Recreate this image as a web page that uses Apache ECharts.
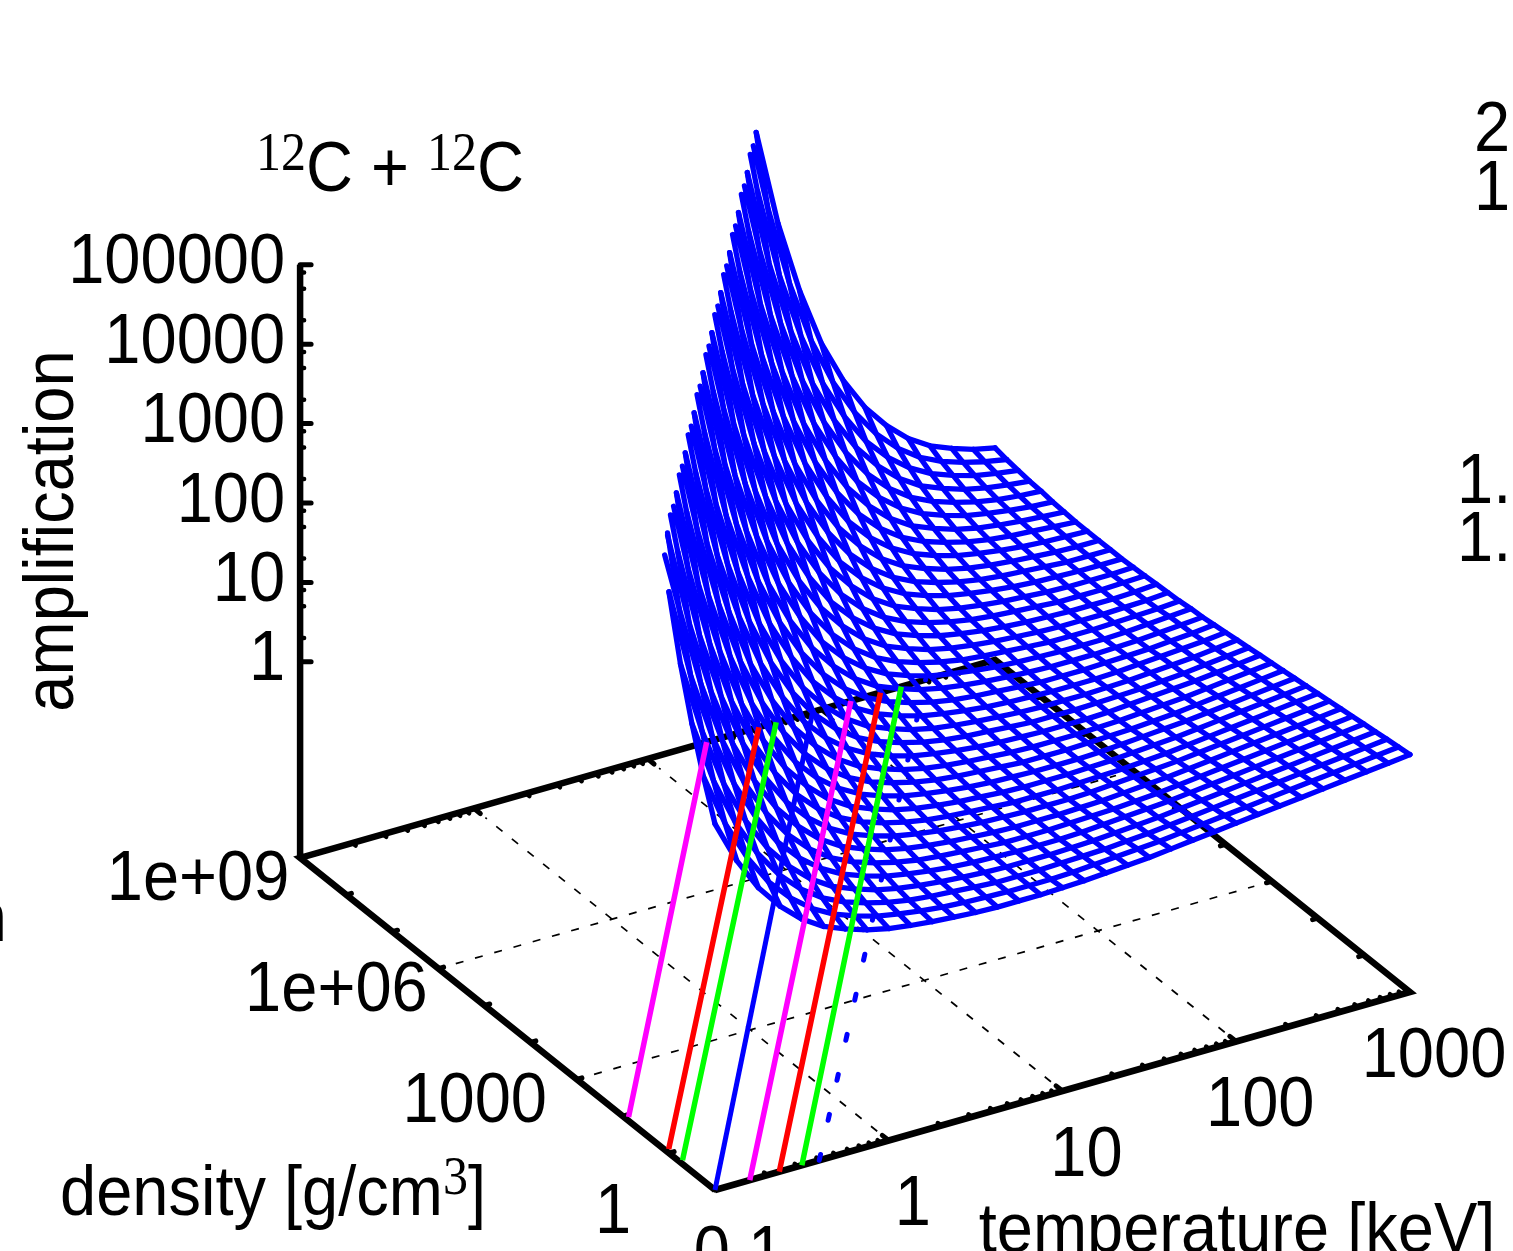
<!DOCTYPE html>
<html>
<head>
<meta charset="utf-8">
<style>html,body{margin:0;padding:0;background:#fff;overflow:hidden}#chart{width:1513px;height:1251px}</style>
<script src="https://cdn.jsdelivr.net/npm/echarts@6/dist/echarts.min.js"></script>
</head>
<body>
<div id="chart"></div>
<script>
// ---------- data (all log10) ----------
const logTemperatureColumns = [-1,-.875,-.75,-.625,-.5,-.375,-.25,-.125,0,.125,.25,.375,.5,.625,.75,.875,1,1.125,1.25,1.375,1.5,1.625,1.75,1.875,2,2.125,2.25,2.375,2.5,2.625,2.75,2.875,3];
const logDensityRows = [0,.25,.5,.75,1,1.25,1.5,1.75,2,2.25,2.5,2.75,3,3.25,3.5,3.75,4,4.25,4.5,4.75,5,5.25,5.5,5.75,6,6.25,6.5,6.75,7,7.25,7.5,7.75,8,8.25,8.5,8.75,9];
// log10(amplification) per density row; each row is right-aligned on the temperature columns
const logAmplification = [
[2.14,1.60,1.18,.87,.63,.46,.35,.26,.20,.16,.13,.11,.09,.08,.08,.08,.09,.10,.12,.14,.16,.19,.22,.25,.28,.31,.34,.37,.40,.43,.46,.49,.52],
[2.62,1.95,1.45,1.06,.78,.57,.42,.32,.24,.19,.15,.12,.10,.09,.08,.08,.08,.09,.11,.13,.15,.17,.20,.23,.26,.29,.32,.35,.38,.41,.44,.47,.50],
[3.17,2.37,1.77,1.31,.96,.70,.51,.38,.29,.22,.17,.14,.12,.10,.08,.08,.08,.09,.10,.11,.13,.15,.18,.21,.24,.27,.30,.33,.36,.39,.42,.45,.48],
[3.81,2.88,2.14,1.60,1.18,.87,.63,.46,.35,.26,.20,.16,.13,.11,.09,.08,.08,.08,.09,.10,.12,.14,.16,.19,.22,.25,.28,.31,.34,.37,.40,.43,.46],
[4.60,3.47,2.62,1.95,1.45,1.06,.78,.57,.42,.32,.24,.19,.15,.12,.10,.09,.08,.08,.08,.09,.11,.13,.15,.17,.20,.23,.26,.29,.32,.35,.38,.41,.44],
[4.20,3.17,2.37,1.77,1.31,.96,.70,.51,.38,.29,.22,.17,.14,.12,.10,.08,.08,.08,.09,.10,.11,.13,.15,.18,.21,.24,.27,.30,.33,.36,.39,.42],
[5.03,3.81,2.88,2.14,1.60,1.18,.87,.63,.46,.35,.26,.20,.16,.13,.11,.09,.08,.08,.08,.09,.10,.12,.14,.16,.19,.22,.25,.28,.31,.34,.37,.40],
[4.60,3.47,2.62,1.95,1.45,1.06,.78,.57,.42,.32,.24,.19,.15,.12,.10,.09,.08,.08,.08,.09,.11,.13,.15,.17,.20,.23,.26,.29,.32,.35,.38],
[4.20,3.17,2.37,1.77,1.31,.96,.70,.51,.38,.29,.22,.17,.14,.12,.10,.08,.08,.08,.09,.10,.11,.13,.15,.18,.21,.24,.27,.30,.33,.36],
[5.03,3.81,2.88,2.14,1.60,1.18,.87,.63,.46,.35,.26,.20,.16,.13,.11,.09,.08,.08,.08,.09,.10,.12,.14,.16,.19,.22,.25,.28,.31,.34],
[4.60,3.47,2.62,1.95,1.45,1.06,.78,.57,.42,.32,.24,.19,.15,.12,.10,.09,.08,.08,.08,.09,.11,.13,.15,.17,.20,.23,.26,.29,.32],
[4.20,3.17,2.37,1.77,1.31,.96,.70,.51,.38,.29,.22,.17,.14,.12,.10,.08,.08,.08,.09,.10,.11,.13,.15,.18,.21,.24,.27,.30],
[5.03,3.81,2.88,2.14,1.60,1.18,.87,.63,.46,.35,.26,.20,.16,.13,.11,.09,.08,.08,.08,.09,.10,.12,.14,.16,.19,.22,.25,.28],
[4.60,3.47,2.62,1.95,1.45,1.06,.78,.57,.42,.32,.24,.19,.15,.12,.10,.09,.08,.08,.08,.09,.11,.13,.15,.17,.20,.23,.26],
[4.20,3.17,2.37,1.77,1.31,.96,.70,.51,.38,.29,.22,.17,.14,.12,.10,.08,.08,.08,.09,.10,.11,.13,.15,.18,.21,.24],
[5.03,3.81,2.88,2.14,1.60,1.18,.87,.63,.46,.35,.26,.20,.16,.13,.11,.09,.08,.08,.08,.09,.10,.12,.14,.16,.19,.22],
[4.60,3.47,2.62,1.95,1.45,1.06,.78,.57,.42,.32,.24,.19,.15,.12,.10,.09,.08,.08,.08,.09,.11,.13,.15,.17,.20],
[4.20,3.17,2.37,1.77,1.31,.96,.70,.51,.38,.29,.22,.17,.14,.12,.10,.08,.08,.08,.09,.10,.11,.13,.15,.18],
[5.03,3.81,2.88,2.14,1.60,1.18,.87,.63,.46,.35,.26,.20,.16,.13,.11,.09,.08,.08,.08,.09,.10,.12,.14,.16],
[4.60,3.47,2.62,1.95,1.45,1.06,.78,.57,.42,.32,.24,.19,.15,.12,.10,.09,.08,.08,.08,.09,.11,.13,.15],
[4.20,3.17,2.37,1.77,1.31,.96,.70,.51,.38,.29,.22,.17,.14,.12,.10,.08,.08,.08,.09,.10,.11,.13],
[5.03,3.81,2.88,2.14,1.60,1.18,.87,.63,.46,.35,.26,.20,.16,.13,.11,.09,.08,.08,.08,.09,.10,.12],
[4.60,3.47,2.62,1.95,1.45,1.06,.78,.57,.42,.32,.24,.19,.15,.12,.10,.09,.08,.08,.08,.09,.11],
[4.20,3.17,2.37,1.77,1.31,.96,.70,.51,.38,.29,.22,.17,.14,.12,.10,.08,.08,.08,.09,.10],
[5.03,3.81,2.88,2.14,1.60,1.18,.87,.63,.46,.35,.26,.20,.16,.13,.11,.09,.08,.08,.08,.09],
[4.60,3.47,2.62,1.95,1.45,1.06,.78,.57,.42,.32,.24,.19,.15,.12,.10,.09,.08,.08,.08],
[4.20,3.17,2.37,1.77,1.31,.96,.70,.51,.38,.29,.22,.17,.14,.12,.10,.08,.08,.08],
[5.03,3.81,2.88,2.14,1.60,1.18,.87,.63,.46,.35,.26,.20,.16,.13,.11,.09,.08,.08],
[4.60,3.47,2.62,1.95,1.45,1.06,.78,.57,.42,.32,.24,.19,.15,.12,.10,.09,.08],
[4.20,3.17,2.37,1.77,1.31,.96,.70,.51,.38,.29,.22,.17,.14,.12,.10,.08],
[5.03,3.81,2.88,2.14,1.60,1.18,.87,.63,.46,.35,.26,.20,.16,.13,.11,.09],
[4.60,3.47,2.62,1.95,1.45,1.06,.78,.57,.42,.32,.24,.19,.15,.12,.10],
[4.20,3.17,2.37,1.77,1.31,.96,.70,.51,.38,.29,.22,.17,.14,.12],
[5.03,3.81,2.88,2.14,1.60,1.18,.87,.63,.46,.35,.26,.20,.16,.13],
[4.60,3.47,2.62,1.95,1.45,1.06,.78,.57,.42,.32,.24,.19,.15],
[4.20,3.17,2.37,1.77,1.31,.96,.70,.51,.38,.29,.22,.17],
[5.03,3.81,2.88,2.14,1.60,1.18,.87,.63,.46,.35,.26,.20]
];
// low-temperature end of each density row, from the row logDensity = 1.25 upward
const rowEndLogTemperature = [-.958,-.875,-.792,-.708,-.625,-.542,-.458,-.375,-.292,-.208,-.125,-.042,.042,.125,.208,.292,.375,.458,.542,.625,.708,.792,.875,.958,1.042,1.125,1.208,1.292,1.375,1.458,1.542,1.625];
const rowEndLogAmplification = [4.92,5.0,5.09,5.03,5.03,5.09,5.03,5.03,5.09,5.03,5.03,5.09,5.03,5.03,5.09,5.03,5.03,5.09,5.03,5.03,5.09,5.03,5.03,5.09,5.03,5.03,5.09,5.03,5.03,5.09,5.03,5.03];

// floor curves: [logT at logDensity a, a, logT at logDensity b, b]
const magentaCurves = [[-.98,1.95,1.34,9],[-.8,0,2.17,9]];
const redCurves     = [[-.98,1.08,1.64,9],[-.63,0,2.34,9]];
const greenCurves   = [[-.98,.78,1.74,9],[-.5,0,2.46,9]];
const blueSolidCurve = [[-1,0,1.95,9]];
const blueDashedCurve = [[-.4,0,2.6,9]];

const temperatureTicks = [[-1,'0.1'],[0,'1'],[1,'10'],[2,'100'],[3,'1000']];
const densityTicks = [[0,'1'],[3,'1000'],[6,'1e+06'],[9,'1e+09']];
const amplificationTicks = [[0,'1'],[1,'10'],[2,'100'],[3,'1000'],[4,'10000'],[5,'100000']];
const minorDecadeSteps = [2,3,4,5,6,7,8,9];
const amplificationMinorSteps = [2,5,8];

// ---------- view of the 3D box ----------
const VIEW = {ox:715, oy:1190, tx:173.75, ty:-49.5, rx:-46.1, ry:-36.9, zy:79.4, zFloor:-2.47};
function project(logT, logRho, logA){
  const t = logT + 1;
  return [VIEW.ox + t*VIEW.tx + logRho*VIEW.rx,
          VIEW.oy + t*VIEW.ty + logRho*VIEW.ry - (logA - VIEW.zFloor)*VIEW.zy];
}
const floorP = (logT, logRho) => project(logT, logRho, VIEW.zFloor);
const GAP = [NaN, NaN];
function joinPaths(paths){
  const out = [];
  paths.forEach(p => { p.forEach(q => out.push(q)); out.push(GAP); });
  return out;
}
function lineSeries(name, paths, style, z){
  return {type:'line', name, data:joinPaths(paths), showSymbol:false, symbol:'none', silent:true,
    animation:false, clip:false, z, connectNulls:false,
    lineStyle:Object.assign({cap:'round', join:'round', opacity:1}, style)};
}

// ---------- mesh ----------
const nCols = logTemperatureColumns.length;
const rowPaths = logAmplification.map((row, j) => {
  const first = nCols - row.length;
  const pts = row.map((a, i) => project(logTemperatureColumns[first + i], logDensityRows[j], a));
  const e = j - 5;
  if (e >= 0 && rowEndLogTemperature[e] < logTemperatureColumns[first] - 1e-3) {
    pts.unshift(project(rowEndLogTemperature[e], logDensityRows[j], rowEndLogAmplification[e]));
  } else if (e >= 0) {
    pts[0] = project(logTemperatureColumns[first], logDensityRows[j], rowEndLogAmplification[e]);
  }
  return pts;
});
const colPaths = logTemperatureColumns.map((lt, c) => {
  const pts = [];
  logAmplification.forEach((row, j) => {
    const first = nCols - row.length;
    if (c >= first) pts.push(project(lt, logDensityRows[j], row[c - first]));
  });
  return pts;
});

// ---------- box, ticks, grid ----------
const [tMin, tMax] = [-1, 3], [rMin, rMax] = [0, 9];
const boxPaths = [
  [floorP(tMin,rMin), floorP(tMax,rMin), floorP(tMax,rMax), floorP(tMin,rMax), floorP(tMin,rMin)],
  [floorP(tMin,rMax), project(tMin,rMax,5)]
];
const tickPaths = [], minorPaths = [];
temperatureTicks.forEach(([lt]) => {
  tickPaths.push([floorP(lt,rMin), floorP(lt,rMin+.14)]);
  tickPaths.push([floorP(lt,rMax), floorP(lt,rMax-.14)]);
  if (lt < tMax) minorDecadeSteps.forEach(m => {
    const v = lt + Math.log10(m);
    minorPaths.push([floorP(v,rMin), floorP(v,rMin+.07)]);
    minorPaths.push([floorP(v,rMax), floorP(v,rMax-.07)]);
  });
});
for (let r = rMin + 1; r < rMax; r++) {
  tickPaths.push([floorP(tMin,r), floorP(tMin+.03,r)]);
  tickPaths.push([floorP(tMax,r), floorP(tMax-.03,r)]);
}
amplificationTicks.forEach(([z]) => {
  const p = project(tMin,rMax,z);
  tickPaths.push([p, [p[0]+11, p[1]]]);
  if (z < 5) amplificationMinorSteps.forEach(m => {
    const q = project(tMin,rMax,z+Math.log10(m));
    minorPaths.push([q, [q[0]+4, q[1]]]);
  });
});
const gridPaths = [];
temperatureTicks.slice(1,4).forEach(([lt]) => gridPaths.push([floorP(lt,rMin+.25), floorP(lt,rMax-.25)]));
densityTicks.slice(1,3).forEach(([r]) => gridPaths.push([floorP(tMin+.1,r), floorP(tMax-.1,r)]));

const curvePaths = list => list.map(c => [floorP(c[0],c[1]), floorP(c[2],c[3])]);

// ---------- text ----------
const SANS = '"Liberation Sans", Arial, sans-serif', SERIF = '"Liberation Serif", serif';
const SY = 1.09, FS = 65;
function txt(text, x, y, align, extra){
  return Object.assign({type:'text', x, y, scaleY:SY, silent:true, z:50,
    style:{text, fill:'#000', font:FS+'px '+SANS, textAlign:align, textVerticalAlign:'middle'}}, extra||{});
}
function richTxt(text, x, y){
  return {type:'text', x, y, scaleY:SY, silent:true, z:50,
    style:{text, fill:'#000', textAlign:'left', textVerticalAlign:'middle',
      rich:{m:{font:FS+'px '+SANS, fill:'#000', lineHeight:72, verticalAlign:'bottom'},
            s:{font:'50px '+SERIF, fill:'#000', lineHeight:72, verticalAlign:'top'}}}};
}
const textElements = [];
amplificationTicks.forEach(([z,l]) => { const p = project(tMin,rMax,z); textElements.push(txt(l, p[0]-15, p[1]-1, 'right')); });
densityTicks.forEach(([r,l]) => { const p = floorP(tMin,r); textElements.push(txt(l, p[0]-102, p[1]+23, 'center')); });
temperatureTicks.forEach(([lt,l]) => { const p = floorP(lt,rMin); textElements.push(txt(l, p[0]+24, p[1]+65, 'center')); });
textElements.push(txt('amplification', 53, 531, 'center', {rotation:Math.PI/2}));
textElements.push(txt('temperature [keV]', 1237, 1232, 'center'));
textElements.push(richTxt('{m|density [g/cm}{s|3}{m|]}', 60, 1192));
textElements.push(richTxt('{s|12}{m|C + }{s|12}{m|C}', 256, 168));
// fragments of neighbouring panels cut by the image edge
textElements.push(txt('2', 1474, 131, 'left'));
textElements.push(txt('1', 1474, 190, 'left'));
textElements.push(txt('1.', 1457, 483, 'left'));
textElements.push(txt('1.', 1457, 541, 'left'));
textElements.push(txt('n', 7, 921, 'right'));

// ---------- chart ----------
const chart = echarts.init(document.getElementById('chart'), null, {renderer:'canvas'});
chart.setOption({
  animation:false,
  backgroundColor:'#fff',
  grid:{left:0, top:0, right:0, bottom:0, containLabel:false},
  xAxis:{type:'value', min:0, max:1513, show:false},
  yAxis:{type:'value', min:0, max:1251, inverse:true, show:false},
  tooltip:{show:false},
  series:[
    lineSeries('floor grid', gridPaths, {color:'#000', width:1.7, type:[8,12], cap:'butt'}, 1),
    lineSeries('box', boxPaths, {color:'#000', width:6.5, join:'miter', cap:'butt'}, 2),
    lineSeries('major ticks', tickPaths, {color:'#000', width:5}, 2),
    lineSeries('minor ticks', minorPaths, {color:'#000', width:4.5}, 2),
    lineSeries('amplification rows', rowPaths, {color:'#0000ff', width:5.3}, 3),
    lineSeries('amplification columns', colPaths, {color:'#0000ff', width:5.3}, 3),
    lineSeries('blue floor', curvePaths(blueSolidCurve), {color:'#0000ff', width:5, cap:'butt'}, 4),
    lineSeries('blue dashed floor', curvePaths(blueDashedCurve), {color:'#0000ff', width:5, type:[6,35]}, 4),
    lineSeries('magenta floor', curvePaths(magentaCurves), {color:'#ff00ff', width:5.5, cap:'butt'}, 5),
    lineSeries('red floor', curvePaths(redCurves), {color:'#ff0000', width:5.5, cap:'butt'}, 5),
    lineSeries('green floor', curvePaths(greenCurves), {color:'#00ff00', width:5.5, cap:'butt'}, 5)
  ],
  graphic:{elements:textElements}
});
</script>
</body>
</html>
